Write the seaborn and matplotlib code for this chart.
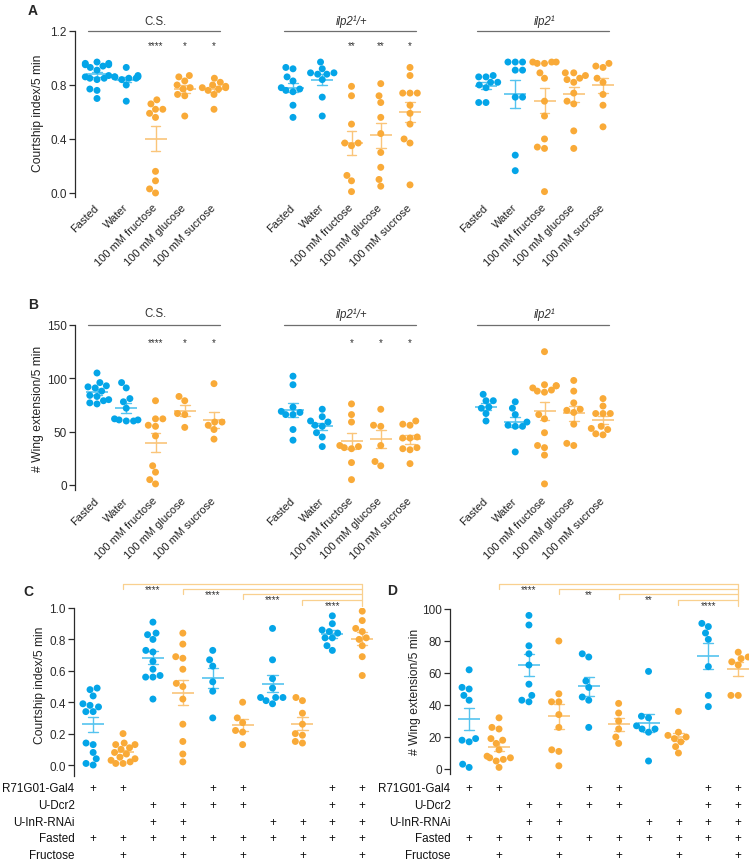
import warnings
import numpy as np
import pandas as pd
import matplotlib
matplotlib.use("Agg")
import matplotlib.pyplot as plt
import matplotlib.transforms as mtransforms
import seaborn as sns

warnings.filterwarnings("ignore")

# ---------------- data ----------------
TREATMENTS = ["Fasted", "Water", "100 mM fructose", "100 mM glucose", "100 mM sucrose"]
TREATMENT_IS_SUGAR = [False, False, True, True, True]
GENOTYPES = ["C.S.", "ilp2¹/+", "ilp2¹"]

# A: courtship index, one list per treatment
ci_cs = [
    [0.97, 0.96, 0.96, 0.95, 0.95, 0.94, 0.93, 0.91, 0.87, 0.86, 0.85, 0.85, 0.84, 0.77, 0.76, 0.70],
    [0.93, 0.87, 0.86, 0.86, 0.86, 0.85, 0.85, 0.84, 0.80, 0.68],
    [0.69, 0.66, 0.62, 0.62, 0.59, 0.56, 0.16, 0.09, 0.03, 0.0],
    [0.87, 0.86, 0.83, 0.80, 0.78, 0.77, 0.73, 0.72, 0.57],
    [0.85, 0.82, 0.80, 0.79, 0.78, 0.78, 0.77, 0.76, 0.73, 0.62],
]
ci_het = [
    [0.93, 0.92, 0.86, 0.83, 0.78, 0.77, 0.76, 0.75, 0.65, 0.56],
    [0.97, 0.92, 0.89, 0.89, 0.88, 0.88, 0.84, 0.71, 0.57],
    [0.79, 0.72, 0.51, 0.37, 0.37, 0.35, 0.13, 0.09, 0.01],
    [0.81, 0.72, 0.67, 0.56, 0.44, 0.30, 0.19, 0.10, 0.05],
    [0.93, 0.87, 0.74, 0.74, 0.74, 0.65, 0.59, 0.51, 0.40, 0.37, 0.06],
]
ci_mut = [
    [0.87, 0.86, 0.86, 0.82, 0.82, 0.80, 0.78, 0.67, 0.67],
    [0.97, 0.97, 0.97, 0.91, 0.91, 0.71, 0.71, 0.28, 0.165],
    [0.97, 0.97, 0.97, 0.96, 0.96, 0.89, 0.85, 0.68, 0.57, 0.40, 0.34, 0.33, 0.01],
    [0.89, 0.89, 0.87, 0.85, 0.84, 0.82, 0.74, 0.68, 0.66, 0.46, 0.33],
    [0.96, 0.94, 0.93, 0.85, 0.82, 0.73, 0.65, 0.49],
]

# B: wing extensions
we_cs = [
    [105, 96, 93, 92, 91, 88, 84, 83, 80, 79, 77, 76],
    [96, 91, 81, 78, 72, 62, 61, 61, 60, 60],
    [79, 62, 62, 56, 55, 46, 18, 12, 5, 1],
    [83, 79, 67, 66, 54],
    [95, 59, 59, 56, 52, 43],
]
we_het = [
    [102, 94, 73, 69, 68, 66, 66, 52, 42],
    [71, 64, 60, 59, 56, 55, 49, 45, 36],
    [76, 66, 59, 37, 36, 35, 34, 21, 5],
    [71, 56, 55, 37, 22, 18],
    [60, 57, 56, 45, 44, 44, 35, 34, 33, 20],
]
we_mut = [
    [85, 79, 79, 73, 72, 67, 60],
    [78, 72, 66, 59, 56, 55, 55, 31],
    [125, 94, 93, 93, 91, 89, 88, 87, 66, 62, 49, 37, 35, 28, 1],
    [98, 88, 77, 71, 70, 68, 57, 39, 37],
    [81, 74, 67, 67, 67, 55, 53, 52, 48, 47],
]

STARS_A = [["", "", "****", "*", "*"], ["", "", "**", "**", "*"], ["", "", "", "", ""]]
STARS_B = [["", "", "****", "*", "*"], ["", "", "*", "*", "*"], ["", "", "", "", ""]]

# C/D: ten genotype x feeding groups
GROUP_IDS = [f"G{i}" for i in range(1, 11)]
GAL4 = [1, 1, 0, 0, 1, 1, 0, 0, 1, 1]
DCR2 = [0, 0, 1, 1, 1, 1, 0, 0, 1, 1]
INR_RNAI = [0, 0, 1, 1, 0, 0, 1, 1, 1, 1]
FASTED = [1, 1, 1, 1, 1, 1, 1, 1, 1, 1]
FRUCTOSE = [0, 1, 0, 1, 0, 1, 0, 1, 0, 1]
TABLE_ROWS = ["R71G01-Gal4", "U-Dcr2", "U-InR-RNAi", "Fasted", "Fructose"]

ci_rnai = [
    [0.49, 0.48, 0.44, 0.39, 0.38, 0.37, 0.34, 0.34, 0.14, 0.13, 0.08, 0.04, 0.01, 0.00],
    [0.20, 0.14, 0.13, 0.13, 0.11, 0.10, 0.08, 0.07, 0.05, 0.04, 0.03, 0.02, 0.01, 0.01],
    [0.91, 0.84, 0.83, 0.80, 0.73, 0.72, 0.66, 0.61, 0.57, 0.56, 0.56, 0.42],
    [0.84, 0.77, 0.69, 0.68, 0.61, 0.52, 0.50, 0.42, 0.26, 0.15, 0.07, 0.02],
    [0.73, 0.67, 0.63, 0.53, 0.47, 0.30],
    [0.40, 0.30, 0.27, 0.22, 0.21, 0.13],
    [0.87, 0.67, 0.55, 0.49, 0.43, 0.43, 0.43, 0.41, 0.39],
    [0.43, 0.41, 0.33, 0.26, 0.20, 0.19, 0.15, 0.14],
    [0.95, 0.90, 0.86, 0.85, 0.84, 0.81, 0.81, 0.76, 0.73],
    [0.98, 0.92, 0.87, 0.85, 0.81, 0.80, 0.76, 0.69, 0.57],
]
we_rnai = [
    [62, 51, 50, 46, 43, 19, 18, 17, 3, 1],
    [32, 26, 25, 19, 18, 16, 12, 8, 7, 7, 6, 5, 1],
    [96, 90, 77, 72, 65, 53, 46, 43, 42],
    [80, 47, 42, 42, 34, 26, 12, 11, 2],
    [72, 70, 55, 51, 45, 43, 26],
    [41, 35, 30, 25, 20, 16],
    [61, 33, 32, 27, 25, 25, 23, 5],
    [36, 23, 21, 20, 19, 17, 14, 10],
    [91, 89, 85, 81, 64, 46, 39],
    [73, 70, 69, 67, 65, 46, 46],
]
BRACKET_START = [1, 3, 5, 7]
STARS_C = ["****", "****", "****", "****"]
STARS_D = ["****", "**", "**", "****"]

# ---------------- style ----------------
BLUE = "#04A5E8"
ORANGE = "#F9AA38"
BLUE_ERR = "#55C3EF"
ORANGE_ERR = "#FAC57A"
BRACKET = "#F9D08F"
GREY = "#6E6E6E"
AXIS = "#2B2B2B"

sns.set_theme(style="ticks")
plt.rcParams["font.family"] = ["Liberation Sans", "DejaVu Sans"]

W, H = 750, 862
fig = plt.figure(figsize=(W / 100, H / 100), dpi=100)


def px_axes(left, right, top, bottom):
    return fig.add_axes([left / W, 1 - bottom / H, (right - left) / W, (bottom - top) / H])


def draw_groups(ax, groups, order, colors):
    df = pd.DataFrame({
        "group": np.repeat(order, [len(g) for g in groups]),
        "value": np.concatenate([np.asarray(g, float) for g in groups]),
    })
    pal = dict(zip(order, colors))
    err_pal = {k: (BLUE_ERR if c == BLUE else ORANGE_ERR) for k, c in pal.items()}
    sns.swarmplot(data=df, x="group", y="value", hue="group", order=order,
                  hue_order=order, palette=pal, size=5.0, linewidth=0,
                  legend=False, ax=ax)
    sns.pointplot(data=df, x="group", y="value", hue="group", order=order,
                  hue_order=order, palette=err_pal, errorbar="se", capsize=0.34,
                  marker="_", markersize=16, markeredgewidth=1.2,
                  linestyle="none", err_kws={"linewidth": 1.0},
                  legend=False, ax=ax)
    ax.set_xlabel("")
    ax.set_ylabel("")


def style_y(ax, ticks, labels):
    ax.set_yticks(ticks)
    ax.set_yticklabels(labels)
    ax.tick_params(axis="y", length=4, width=0.9, labelsize=8.5, pad=2,
                   colors=AXIS)
    ax.spines["left"].set_color(AXIS)
    ax.spines["left"].set_linewidth(0.9)


# ---------------- A & B ----------------
sugar_rows = [
    dict(data=[ci_cs, ci_het, ci_mut], top=32, bottom=198, ylim=(-0.03, 1.2),
         ticks=[0, 0.4, 0.8, 1.2], labels=["0.0", "0.4", "0.8", "1.2"],
         line_y=1.2, title_y=1.275, star_y=1.07, stars=STARS_A,
         ylabel="Courtship index/5 min", ylabel_xy=(38, 113),
         letter="A", letter_xy=(33, 11)),
    dict(data=[we_cs, we_het, we_mut], top=326, bottom=491.3, ylim=(-5, 150),
         ticks=[0, 50, 100, 150], labels=["0", "50", "100", "150"],
         line_y=150, title_y=161, star_y=131.5, stars=STARS_B,
         ylabel="# Wing extension/5 min", ylabel_xy=(38, 409),
         letter="B", letter_xy=(33, 305)),
]
sugar_colors = [ORANGE if s else BLUE for s in TREATMENT_IS_SUGAR]
unit = 29.25
for row in sugar_rows:
    for i, fasted_px in enumerate([97, 293, 486]):
        left = fasted_px - 0.75 * unit
        ax = px_axes(left, left + 5.35 * unit, row["top"], row["bottom"])
        draw_groups(ax, row["data"][i], TREATMENTS, sugar_colors)
        ax.set_xlim(-0.75, 4.6)
        ax.set_ylim(*row["ylim"])
        sns.despine(ax=ax, bottom=True, left=(i > 0))
        if i == 0:
            style_y(ax, row["ticks"], row["labels"])
        else:
            ax.tick_params(axis="y", left=False, labelleft=False)
        ax.set_xticks(range(5))
        ax.set_xticklabels(TREATMENTS, rotation=45, ha="right", va="center",
                           rotation_mode="anchor", fontsize=8)
        ax.tick_params(axis="x", length=0, pad=6, colors="#222")

        ax.plot([-0.3, 4.2], [row["line_y"]] * 2, color=GREY, lw=0.9,
                clip_on=False)
        ax.text(2.0, row["title_y"], GENOTYPES[i], ha="center", va="center",
                fontsize=8.3, color="#333",
                fontstyle="normal" if i == 0 else "italic")
        for j, s in enumerate(row["stars"][i]):
            if s:
                ax.text(j, row["star_y"], s, ha="center", va="baseline",
                        fontsize=7, color="#333")
    fig.text(row["ylabel_xy"][0] / W, 1 - row["ylabel_xy"][1] / H, row["ylabel"],
             rotation=90, ha="center", va="center", fontsize=8.7, color="#222")
    fig.text(row["letter_xy"][0] / W, 1 - row["letter_xy"][1] / H, row["letter"],
             fontsize=10, fontweight="bold", ha="center", va="center")

# ---------------- C & D ----------------
rnai_panels = [
    dict(data=ci_rnai, left=74, top=609, bottom=777, ylim=(-0.07, 1.0),
         ticks=[0, 0.2, 0.4, 0.6, 0.8, 1.0],
         labels=["0.0", "0.2", "0.4", "0.6", "0.8", "1.0"],
         levels=[1.153, 1.121, 1.089, 1.051], tick=0.032, right_end=1.013,
         star_off=0.05, stars=STARS_C, ylabel="Courtship index/5 min",
         ylabel_xy=(40, 685), letter="C", letter_xy=(28, 592)),
    dict(data=we_rnai, left=450, top=610, bottom=774.8, ylim=(-3, 100),
         ticks=[0, 20, 40, 60, 80, 100],
         labels=["0", "20", "40", "60", "80", "100"],
         levels=[115.6, 112.5, 109.4, 105.6], tick=3.1, right_end=101.9,
         star_off=4.8, stars=STARS_D, ylabel="# Wing extension/5 min",
         ylabel_xy=(415, 692), letter="D", letter_xy=(392, 591)),
]
rnai_colors = [ORANGE if f else BLUE for f in FRUCTOSE]
table = [GAL4, DCR2, INR_RNAI, FASTED, FRUCTOSE]
row_px = [789, 806, 823, 839, 856]
unit = 29.9
for p in rnai_panels:
    ax = px_axes(p["left"], p["left"] + 9.99 * unit, p["top"], p["bottom"])
    draw_groups(ax, p["data"], GROUP_IDS, rnai_colors)
    ax.set_xlim(-0.64, 9.35)
    ax.set_ylim(*p["ylim"])
    sns.despine(ax=ax, bottom=True)
    style_y(ax, p["ticks"], p["labels"])
    ax.set_xticks([])

    # significance brackets
    for start, level, s in zip(BRACKET_START, p["levels"], p["stars"]):
        ax.plot([start, start, 9], [level - p["tick"], level, level],
                color=BRACKET, lw=0.9, clip_on=False)
        ax.text(start + 1, level - p["star_off"], s, ha="center",
                va="baseline", fontsize=7, color="#333")
    ax.plot([9, 9], [p["levels"][0], p["right_end"]], color=BRACKET, lw=0.9,
            clip_on=False)

    # genotype / feeding table
    trans = mtransforms.blended_transform_factory(ax.transData, fig.transFigure)
    for name, marks, ypx in zip(TABLE_ROWS, table, row_px):
        yf = 1 - ypx / H
        ax.text(-0.62, yf, name, transform=trans, ha="right", va="center",
                fontsize=8.4, color="#111")
        for k, m in enumerate(marks):
            if m:
                ax.text(k, yf, "+", transform=trans, ha="center",
                        va="center", fontsize=8.4, color="#111")

    fig.text(p["ylabel_xy"][0] / W, 1 - p["ylabel_xy"][1] / H, p["ylabel"],
             rotation=90, ha="center", va="center", fontsize=8.7, color="#222")
    fig.text(p["letter_xy"][0] / W, 1 - p["letter_xy"][1] / H, p["letter"],
             fontsize=10, fontweight="bold", ha="center", va="center")

fig.savefig("out.png", dpi=100)
